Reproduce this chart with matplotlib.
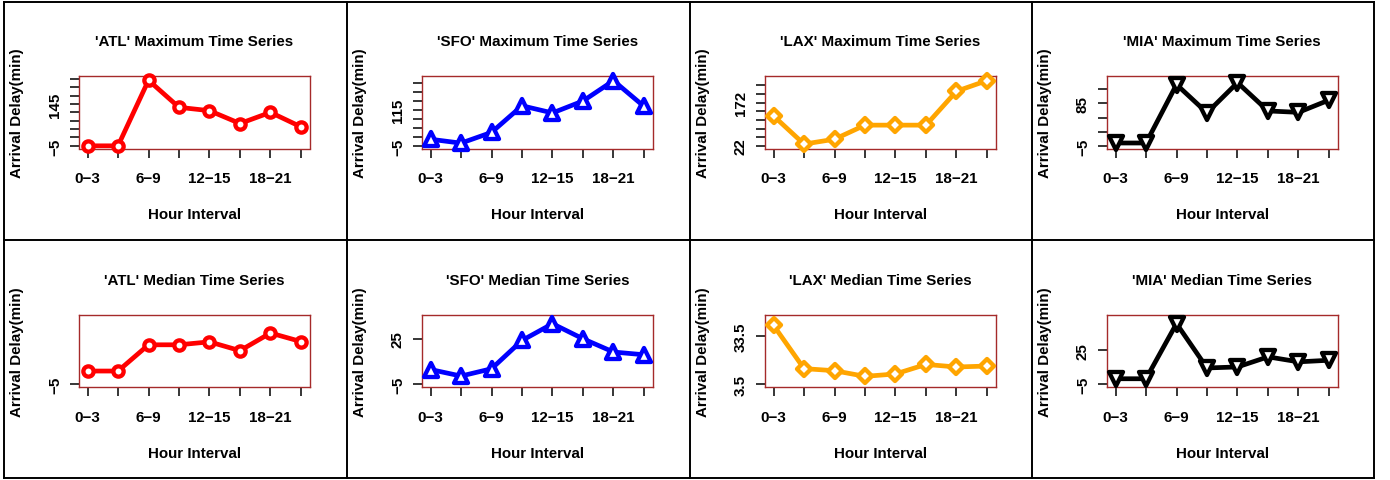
import matplotlib
matplotlib.use("Agg")
import numpy as np
import matplotlib.pyplot as plt
from matplotlib.lines import Line2D
from matplotlib.markers import MarkerStyle

# ---------------- data ----------------
airports = ["ATL", "SFO", "LAX", "MIA"]
hour_labels = ["0\u22123", "3\u22126", "6\u22129", "9\u221212",
               "12\u221215", "15\u221218", "18\u221221", "21\u221224"]
hour_labels_shown = ["0\u22123", "6\u22129", "12\u221215", "18\u221221"]

max_atl = [-5, -5, 230, 133, 121, 75, 115, 63]
max_sfo = [17, 4, 40, 129, 105, 145, 213, 127]
max_lax = [126, 28, 45, 94, 94, 94, 212, 249]
max_mia = [1, 1, 125, 65, 129, 69, 66, 92]

med_atl = [0, 0, 9.8, 9.8, 10.9, 7.6, 14.2, 11]
med_sfo = [4.8, 0.5, 5.3, 23.9, 34.9, 25, 16.3, 14.5]
med_lax = [40.1, 13.3, 12.0, 8.5, 10.0, 15.9, 14.3, 14.9]
med_mia = [0, 0, 48.6, 9.5, 10.4, 19.3, 14.9, 16.3]

max_series = [max_atl, max_sfo, max_lax, max_mia]
med_series = [med_atl, med_sfo, med_lax, med_mia]

# y-axis ranges (low, high) and the tick labels R managed to print
max_ylim = [(-5, 235), (-5, 219), (22, 255), (-5, 137)]
med_ylim = [(-5, 20), (-5, 39), (3.5, 45), (-5, 54)]
max_ylabels_shown = [[-5, 145], [-5, 115], [22, 172], [-5, 85]]
med_ylabels_shown = [[-5], [-5, 25], [3.5, 33.5], [-5, 25]]
tick_step = 30

# ---------------- style ----------------
colors = ["#FF0000", "#0000FF", "#FFA500", "#000000"]
markers = ["o", "^", "D", "v"]
msizes = [7.4, 9.6, 7.0, 9.6]
box_color = "#A52A2A"
FS = 10.9
plt.rcParams["font.family"] = ["Liberation Sans", "DejaVu Sans"]
plt.rcParams["font.weight"] = "bold"

W, H = 1390, 481
fig = plt.figure(figsize=(W / 100, H / 100), dpi=100)

col_x = [4, 347, 690, 1032, 1374]
row_y = [2.5, 240.5, 478.5]


def fmt(v):
    s = ("%g" % v)
    return s.replace("-", "\u2212")


def draw_panel(r, c, series, ylim, shown, title):
    px0 = col_x[c]
    py0 = row_y[r]
    left = px0 + 75
    top = py0 + 74.7 + (0.6 if r == 1 else 0)
    w = 230.5
    h = 72.3
    ax = fig.add_axes([left / W, 1 - (top + h) / H, w / W, h / H])
    x = np.arange(1, len(series) + 1)
    ms = MarkerStyle(markers[c], joinstyle="round")
    ax.plot(x, series, color=colors[c], lw=3.4, marker=ms,
            markersize=msizes[c], markeredgewidth=3.1,
            markerfacecolor="white", markeredgecolor=colors[c],
            solid_joinstyle="round", solid_capstyle="round", clip_on=False,
            zorder=3)
    lo, hi = ylim
    pad = 0.04 * (hi - lo)
    ax.set_ylim(lo - pad, hi + pad)
    ax.set_xlim(1 - 0.28, len(series) + 0.28)
    yt = np.arange(lo, hi + 1e-9, tick_step)
    ax.set_yticks(yt)
    ax.set_yticklabels([fmt(v) if any(abs(v - s) < 1e-9 for s in shown) else ""
                        for v in yt])
    ax.set_xticks(x)
    ax.set_xticklabels([lab if lab in hour_labels_shown else ""
                        for lab in hour_labels])
    ax.tick_params(axis="both", direction="out", length=6.8, width=1.1,
                   color="black", labelsize=FS, labelcolor="black")
    ax.tick_params(axis="x", pad=9.6)
    ax.tick_params(axis="y", pad=5.5, labelrotation=90)
    for lbl in ax.get_yticklabels():
        lbl.set_va("center")
    for sp in ax.spines.values():
        sp.set_color(box_color)
        sp.set_linewidth(1.0)
        sp.set_zorder(2)
    ax.set_title(title, fontsize=FS, fontweight="bold", pad=22.5)
    ax.set_xlabel("Hour Interval", fontsize=FS, fontweight="bold")
    ax.xaxis.set_label_coords(0.5, -69.7 / h)
    ax.xaxis.label.set_va("baseline")
    ax.set_ylabel("Arrival Delay(min)", fontsize=FS, fontweight="bold")
    ax.yaxis.set_label_coords(-62 / w, 0.5)
    ax.yaxis.label.set_va("center")
    return ax


for c, ap in enumerate(airports):
    draw_panel(0, c, max_series[c], max_ylim[c], max_ylabels_shown[c],
               "'%s' Maximum Time Series" % ap)
    draw_panel(1, c, med_series[c], med_ylim[c], med_ylabels_shown[c],
               "'%s' Median Time Series" % ap)

# panel borders
for xp in col_x:
    fig.add_artist(Line2D([xp / W, xp / W], [1 - row_y[0] / H, 1 - row_y[-1] / H],
                          color="black", lw=1.4, transform=fig.transFigure))
for yp in row_y:
    fig.add_artist(Line2D([col_x[0] / W, col_x[-1] / W], [1 - yp / H, 1 - yp / H],
                          color="black", lw=1.4, transform=fig.transFigure))

fig.savefig("out.png", dpi=100, facecolor="white")
